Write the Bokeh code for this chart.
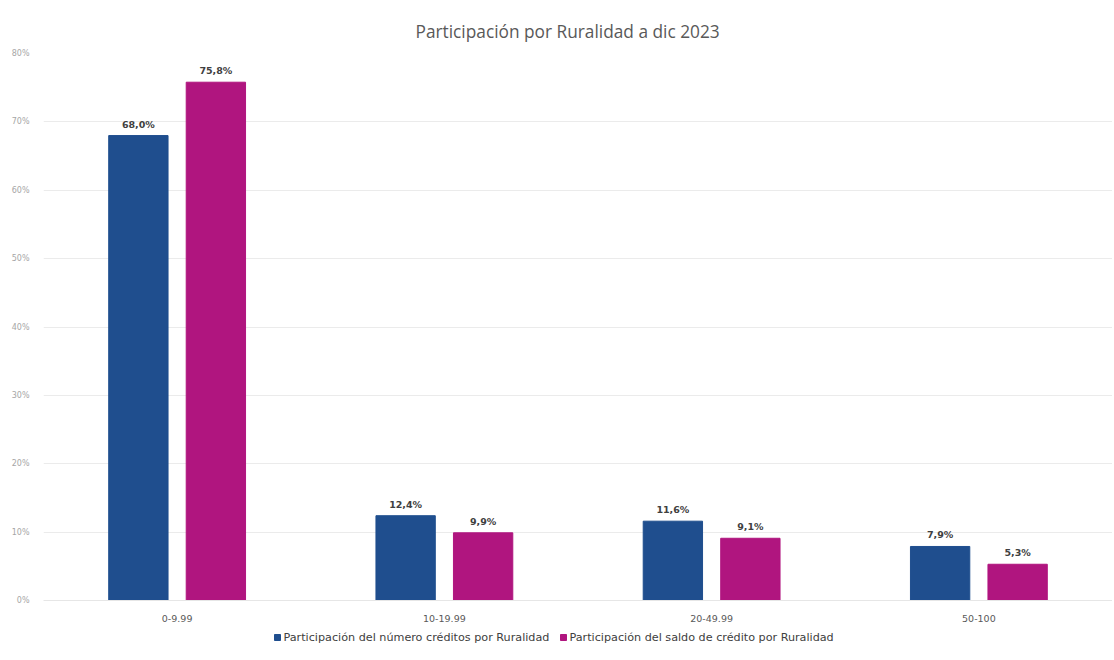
from bokeh.plotting import figure
from bokeh.layouts import column
from bokeh.models import ColumnDataSource, FactorRange, FixedTicker, LabelSet, CustomJSTickFormatter, Range1d
from bokeh.core.properties import value
from bokeh.transform import dodge
from bokeh.embed import file_html
from bokeh.resources import INLINE

categories = ["0-9.99", "10-19.99", "20-49.99", "50-100"]
numero = [68.0, 12.4, 11.6, 7.9]
saldo = [75.8, 9.9, 9.1, 5.3]
numero_labels = ["68,0%", "12,4%", "11,6%", "7,9%"]
saldo_labels = ["75,8%", "9,9%", "9,1%", "5,3%"]
y_ticks = [0, 10, 20, 30, 40, 50, 60, 70, 80]
series_names = ["Participación del número créditos por Ruralidad",
                "Participación del saldo de crédito por Ruralidad"]

BLUE = "#1F4E8E"
MAGENTA = "#B0157F"
FONT = "DejaVu Sans"

src = ColumnDataSource(dict(cat=categories, numero=numero, saldo=saldo,
                            nl=numero_labels, sl=saldo_labels))

p = figure(x_range=FactorRange(*categories), y_range=(0, 80),
           width=1112, height=626, output_backend="svg", toolbar_location=None,
           min_border_left=43, min_border_right=0, min_border_top=53,
           min_border_bottom=26)
p.title.text = "Participación por Ruralidad a dic 2023"
p.title.align = "left"
p.title.text_font = "Open Sans"
p.title.text_font_style = "normal"
p.title.text_font_size = "17.3px"
p.title.text_color = "#595959"
p.title.offset = 372
p.title.standoff = 21

r1 = p.vbar(x=dodge("cat", -0.145, range=p.x_range), top="numero", width=0.222,
            source=src, fill_color=BLUE, line_color=BLUE)
r2 = p.vbar(x=dodge("cat", 0.145, range=p.x_range), top="saldo", width=0.222,
            source=src, fill_color=MAGENTA, line_color=MAGENTA)

for off, col, lab in [(-0.145, "numero", "nl"), (0.145, "saldo", "sl")]:
    ls = LabelSet(x=dodge("cat", off, range=p.x_range), y=col, text=lab, source=src,
                  text_align="center", y_offset=6, text_font=value(FONT),
                  text_font_size=value("9.5px"), text_font_style=value("bold"),
                  text_color=value("#404040"))
    p.add_layout(ls)

p.yaxis.ticker = FixedTicker(ticks=y_ticks)
p.yaxis.formatter = CustomJSTickFormatter(code="return tick + '%';")
p.yaxis.major_label_text_font_size = "8px"
p.yaxis.major_label_text_color = "#A6A6A6"
p.yaxis.major_label_text_font = FONT
p.yaxis.axis_line_color = None
p.yaxis.major_tick_line_color = None
p.yaxis.minor_tick_line_color = None
p.yaxis.major_label_standoff = 8

p.xaxis.axis_line_color = "#E6E6E6"
p.xaxis.major_tick_line_color = None
p.xaxis.minor_tick_line_color = None
p.xaxis.major_label_text_font_size = "9.5px"
p.xaxis.major_label_text_color = "#595959"
p.xaxis.major_label_text_font = FONT
p.xaxis.major_label_standoff = 8

p.xgrid.grid_line_color = None
p.ygrid.grid_line_color = "#EBEBEB"
p.outline_line_color = None
p.border_fill_color = "white"

# legend row as its own small figure (below the chart); its frame is aligned
# with the chart's frame by the column layout, so use page-like x coordinates
leg = figure(width=1112, height=28, x_range=Range1d(43, 1112), y_range=Range1d(0, 28),
             x_axis_type=None, y_axis_type=None,
             output_backend="svg", toolbar_location=None,
             min_border=0, min_border_left=43, min_border_right=0,
             min_border_top=0, min_border_bottom=0)
leg.grid.visible = False
leg.outline_line_color = None
leg_src = ColumnDataSource(dict(mx=[277, 563], tx=[283, 569], y=[17, 17],
                                color=[BLUE, MAGENTA], label=series_names))
leg.scatter(x="mx", y="y", marker="square", size=6, color="color", source=leg_src)
leg.text(x="tx", y="y", text="label", source=leg_src, text_font=value(FONT),
         text_font_size="11.2px", text_color="#404040", text_baseline="middle")

layout = column(p, leg, spacing=0)
open("out.html", "w").write(file_html(layout, INLINE))
